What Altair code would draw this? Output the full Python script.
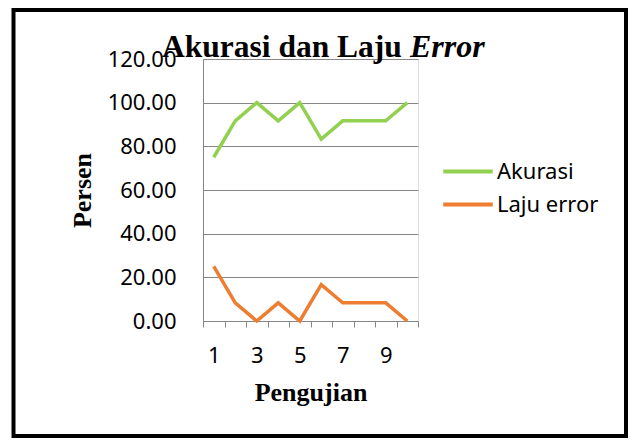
import altair as alt
import pandas as pd

# ---- data ----
tests = [1, 2, 3, 4, 5, 6, 7, 8, 9, 10]
akurasi = [75.00, 91.67, 100.00, 91.67, 100.00, 83.33, 91.67, 91.67, 91.67, 100.00]
laju_error = [25.00, 8.33, 0.00, 8.33, 0.00, 16.67, 8.33, 8.33, 8.33, 0.00]
series_names = ["Akurasi", "Laju error"]
series_colors = ["#92D050", "#ED7D31"]
y_ticks = [0, 20, 40, 60, 80, 100, 120]
title_main = "Akurasi dan Laju"
title_italic = "Error"

rows = []
for t, a in zip(tests, akurasi):
    rows.append({"Pengujian": t, "Persen": a, "Seri": series_names[0]})
for t, e in zip(tests, laju_error):
    rows.append({"Pengujian": t, "Persen": e, "Seri": series_names[1]})
df = pd.DataFrame(rows)

W, H = 215, 262
GRAY = "#868686"

lines = alt.Chart(df).mark_line(strokeWidth=3.5).encode(
    x=alt.X(
        "Pengujian:O",
        scale=alt.Scale(type="band", paddingInner=0, paddingOuter=0),
        axis=alt.Axis(
            title="Pengujian",
            labelAngle=0,
            labelExpr="datum.value % 2 == 1 ? datum.label : ''",
            tickBand="extent",
            tickSize=6,
            tickColor=GRAY,
            domainColor=GRAY,
            grid=False,
            labelFont="Noto Sans",
            labelFontSize=22,
            labelColor="black",
            labelBaseline="alphabetic",
            labelPadding=35,
            titleFont="Liberation Serif",
            titleFontSize=26,
            titleFontWeight="bold",
            titleColor="black",
            titleBaseline="alphabetic",
            titleY=79,
        ),
    ),
    y=alt.Y(
        "Persen:Q",
        scale=alt.Scale(domain=[0, 120], nice=False),
        axis=alt.Axis(
            title="Persen",
            values=y_ticks,
            format=".2f",
            ticks=False,
            domainColor=GRAY,
            gridColor=GRAY,
            gridWidth=1,
            labelFont="Noto Sans",
            labelFontSize=22,
            labelColor="black",
            labelPadding=27,
            titleFont="Liberation Serif",
            titleFontSize=26,
            titleFontWeight="bold",
            titleColor="black",
            titleBaseline="alphabetic",
            titleAlign="center",
            titleX=-113,
            titleY=H / 2,
        ),
    ),
    color=alt.Color(
        "Seri:N",
        scale=alt.Scale(domain=series_names, range=series_colors),
        legend=alt.Legend(
            title=None,
            orient="none",
            legendX=246.5,
            legendY=94,
            symbolType="M-1.5,0H1.5",
            symbolSize=1089,
            symbolStrokeWidth=4,
            labelFont="Noto Sans",
            labelFontSize=22,
            labelColor="black",
            padding=0,
            rowPadding=3,
            labelOffset=10.5,
        ),
    ),
)

title_df = pd.DataFrame({"t": [title_main], "e": [title_italic]})
t1 = alt.Chart(title_df).mark_text(
    font="Liberation Serif", fontSize=31.5, fontWeight="bold", align="left",
    baseline="alphabetic", color="black"
).encode(text="t:N", x=alt.value(-41), y=alt.value(-2))
t2 = alt.Chart(title_df).mark_text(
    font="Liberation Serif", fontSize=32, fontWeight="bold", fontStyle="italic",
    align="left", baseline="alphabetic", color="black"
).encode(text="e:N", x=alt.value(207), y=alt.value(-2))

frame = alt.Chart(title_df).mark_rect(
    filled=False, stroke="black", strokeWidth=4
).encode(x=alt.value(-189.5), x2=alt.value(423), y=alt.value(-49), y2=alt.value(377))

chart = alt.layer(lines, t1, t2, frame).properties(
    width=W,
    height=H,
    autosize=alt.AutoSizeParams(type="none"),
    padding={"left": 195, "top": 51, "right": 210, "bottom": 117},
).configure_view(stroke="transparent").configure(background="white")

chart.save("out.html", embed_options={"renderer": "svg", "actions": False})
